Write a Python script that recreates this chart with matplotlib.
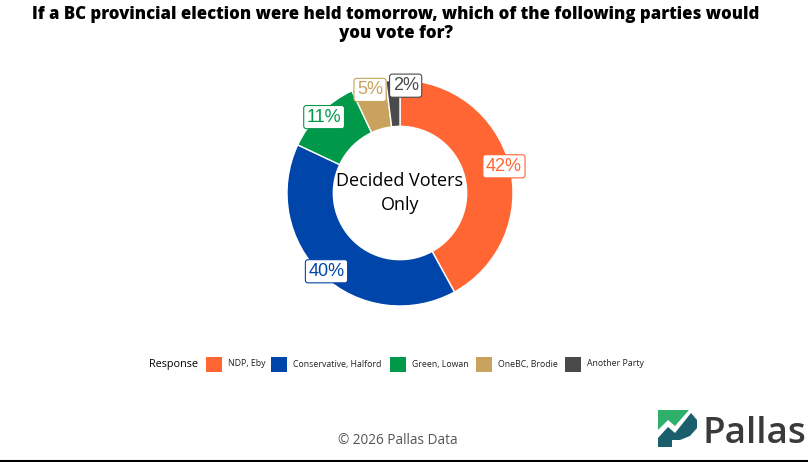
import matplotlib
matplotlib.use("Agg")
import matplotlib.pyplot as plt
from matplotlib.patches import Rectangle, Polygon
from matplotlib.lines import Line2D
import numpy as np

# ---- data ----
categories = ["NDP, Eby", "Conservative, Halford", "Green, Lowan", "OneBC, Brodie", "Another Party"]
values = [42, 40, 11, 5, 2]
labels = ["42%", "40%", "11%", "5%", "2%"]
colors = ["#FF6633", "#0045AA", "#00994A", "#C9A25E", "#4A4A4A"]
title = "If a BC provincial election were held tomorrow, which of the following parties would\nyou vote for?"
center_text = "Decided Voters\nOnly"
legend_title = "Response"
footer = "\u00a9 2026 Pallas Data"

W, H = 808, 462
fig = plt.figure(figsize=(W / 100, H / 100), dpi=100)
fig.patch.set_facecolor("white")

def fx(px):
    return px / W

def fy(py):
    return 1 - py / H

# ---- donut ----
cx, cy, R = 400, 193, 113
half = 1.25 * R
ax = fig.add_axes([fx(cx - half), fy(cy + half), 2 * half / W, 2 * half / H])
wedges, _ = ax.pie(values, colors=colors, startangle=90, counterclock=False,
                   radius=1.0, wedgeprops=dict(width=0.41, edgecolor="white", linewidth=1))
ax.set_xlim(-1.25, 1.25)
ax.set_ylim(-1.25, 1.25)
ax.set_aspect("equal")
ax.axis("off")

total = sum(values)
cum = 0
for i, (v, lab, col) in enumerate(zip(values, labels, colors)):
    mid = cum + v / 2
    cum += v
    ang = np.deg2rad(90 - 360 * mid / total)
    r = 0.95
    lx, ly = r * np.cos(ang), r * np.sin(ang)
    if i == len(values) - 1:
        # small slice: nudge label and draw a leader line
        ax.plot([np.cos(ang) * 0.98, 0.1], [np.sin(ang) * 0.98, 0.9], color=col, lw=0.8, zorder=3)
        lx, ly = 0.05, 0.95
    ax.text(lx, ly, lab, ha="center", va="center", fontsize=13, color=col,
            family="Liberation Sans", zorder=5,
            bbox=dict(boxstyle="round,pad=0.17,rounding_size=0.15", fc="white", ec=col, lw=0.8))

ax.text(0, 0, center_text, ha="center", va="center", fontsize=13, color="black",
        family="Open Sans", linespacing=1.45)

# ---- title ----
fig.text(fx(396), fy(24), title, ha="center", va="center", fontsize=12.1,
         fontweight="heavy", family="Open Sans", color="black", linespacing=1.08)

# ---- legend ----
leg_y = 364
fig.text(fx(149), fy(leg_y), legend_title, ha="left", va="center", fontsize=7.8,
         family="Open Sans", color="black")
patch_x = [206, 271, 390, 476, 565]
for px, cat, col in zip(patch_x, categories, colors):
    fig.patches.append(Rectangle((fx(px), fy(leg_y + 7.5)), 16 / W, 15 / H,
                                 transform=fig.transFigure, fc=col, ec="none"))
    fig.text(fx(px + 22), fy(leg_y), cat, ha="left", va="center", fontsize=6.3,
             family="Open Sans", color="#222222")

# ---- footer ----
fig.text(fx(398), fy(440), footer, ha="center", va="center", fontsize=9.8,
         family="Open Sans", color="#555555")
fig.lines.append(Line2D([0, 1], [fy(460.5), fy(460.5)], transform=fig.transFigure,
                        color="black", lw=1.5))

# ---- logo ----
green_pts = [(658, 410), (689, 410), (675, 426), (668, 420), (658, 430)]
teal_pts = [(658, 438), (668, 427), (675, 433), (691, 413), (697, 420), (697, 428),
            (690, 436), (680, 440), (672, 440), (672, 447), (658, 447)]
fig.patches.append(Polygon([(fx(x), fy(y)) for x, y in green_pts], closed=True,
                           transform=fig.transFigure, fc="#2EAF6A", ec="none"))
fig.patches.append(Polygon([(fx(x), fy(y)) for x, y in teal_pts], closed=True,
                           transform=fig.transFigure, fc="#1C5F6C", ec="none"))
fig.text(fx(702), fy(443), "Pallas", ha="left", va="baseline", fontsize=26.5,
         family="Open Sans", fontweight="semibold", color="#3A3A3A")

fig.savefig("out.png", dpi=100, facecolor="white")
